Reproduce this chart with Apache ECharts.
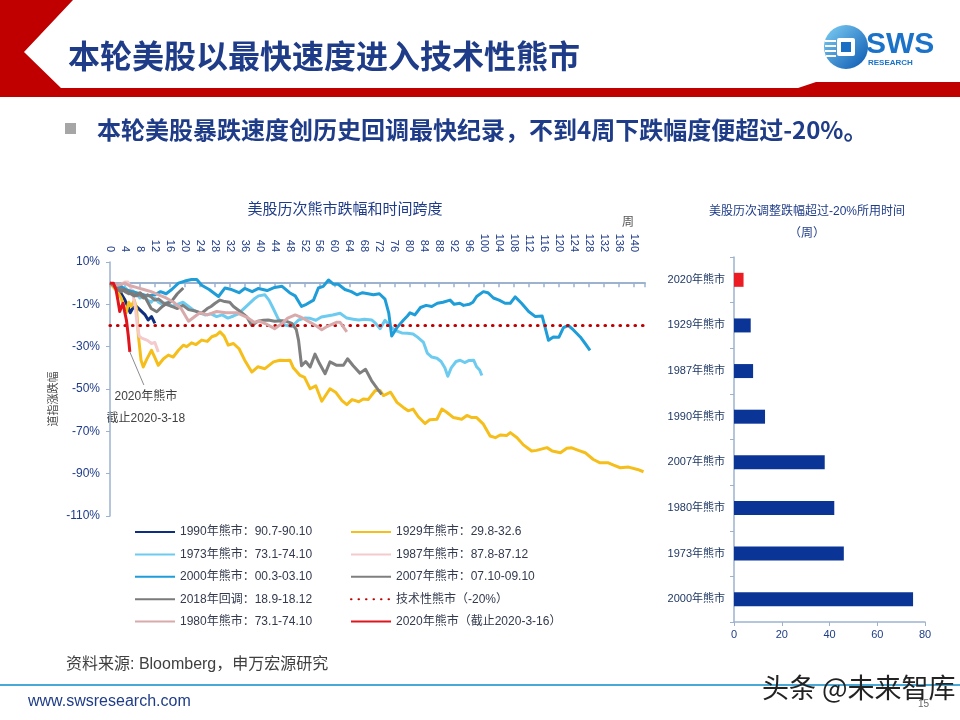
<!DOCTYPE html>
<html>
<head>
<meta charset="utf-8">
<title>本轮美股以最快速度进入技术性熊市</title>
<script src="https://cdn.jsdelivr.net/npm/echarts@6/dist/echarts.min.js"></script>
<style>
html,body{margin:0;padding:0;background:#fff;}
#chart{width:960px;height:720px;}
</style>
</head>
<body>
<div id="chart"></div>
<script>
// 历次熊市：[周数, 道指涨跌幅%]
var s1990 = [[0,0],[1,-1],[2,-3],[3,-5],[4,-8],[5,-12],[5.4,-14],[6.2,-11.5],[7.1,-11],[8,-12.6],[9.4,-15],[10.2,-17.4],[11.1,-15.8],[12,-19]];
var s1929 = [[0,0],[1,-2],[2,-4],[3,-7],[3.5,-10],[4.3,-14],[5,-9],[5.7,-11],[6.5,-8],[7.1,-12],[7.6,-25],[8.3,-36.4],[8.9,-39.6],[9.8,-36],[11.1,-31.7],[12,-35.2],[12.9,-38.8],[14.3,-35.7],[15.6,-34],[16.9,-34.9],[18.3,-31.7],[19.6,-29.3],[20.5,-30],[21.8,-28.2],[23,-29],[24.5,-26.9],[26,-27.5],[27.2,-25.3],[28.5,-24.5],[29.4,-23],[30.5,-25],[31.6,-29.3],[33,-28.5],[34.5,-31],[36,-36.4],[37.9,-42],[39.5,-39.5],[41.4,-40.4],[43.7,-37.2],[45.4,-36.4],[47,-36.5],[48.1,-36.4],[49,-40],[50.8,-43.6],[52,-44.5],[53.5,-49.9],[55,-48.5],[56.6,-55.8],[58.8,-49.9],[60.3,-51.5],[62,-55.5],[63.3,-57.4],[64.7,-55],[66.5,-56],[67.7,-54.7],[69,-55],[70.9,-50.7],[72.2,-50.7],[73.1,-53.1],[75,-51.5],[76.7,-56.3],[78.4,-58.7],[79.7,-60.3],[81,-59.5],[82.4,-63.1],[84.2,-66.3],[85.5,-64.5],[87.4,-64.3],[88.7,-59.5],[90,-61],[91.8,-63.5],[94,-64.3],[95.4,-62.5],[96.7,-63.5],[98,-63.5],[99.8,-66.6],[101.6,-72.2],[103,-73],[104.3,-71.7],[106,-72],[107,-70.6],[108.8,-73],[110.5,-76.4],[112.7,-79.3],[114,-79],[116.8,-77.7],[118.2,-79.3],[120.4,-80.1],[122.1,-78],[123.4,-77.8],[125.2,-79],[127,-80.1],[129.2,-83.3],[131,-84.9],[133.2,-84.9],[134.6,-86],[136.4,-87.2],[138.6,-86.9],[141,-88],[142.6,-89.1]];
var s1973 = [[0,0],[1,-1],[2,-2],[3,-3],[4,-2],[5,-4],[6,-3.5],[7,-5],[8,-7],[9,-6],[10,-8],[11,-9],[12,-7],[13,-9],[14,-10],[15.5,-9],[16.5,-11],[18,-10],[19.5,-9],[21,-11],[22.5,-13],[24,-14],[25.4,-15],[27,-14.5],[28.5,-15.8],[30,-15],[31.5,-16.5],[33,-15.5],[34.3,-14.5],[35.5,-12.5],[37,-10],[38.5,-7.5],[39.7,-6],[41.4,-5.5],[42.5,-8],[43.5,-11.5],[45,-17],[46.8,-19.8],[48.6,-20.5],[50.4,-17.4],[52,-16.5],[53.5,-16.6],[55,-17.5],[56.5,-16],[58,-15.5],[59.5,-15],[61.5,-14.2],[63.3,-16.5],[65,-17],[66.5,-17.4],[68,-17],[70,-17.4],[71,-19],[72.2,-21.5],[73.5,-17.5],[74.9,-20.6],[76.5,-22.5],[78,-23.5],[79.5,-23.7],[81,-24],[82.2,-25.5],[83.8,-28],[84.8,-33],[86,-34.9],[87.4,-35.5],[88.5,-37],[89.5,-40],[90.3,-44],[91.2,-40],[92.5,-37],[93.6,-36.4],[94.8,-37.5],[96,-36.5],[97.2,-36.4],[98,-39.5],[98.8,-41],[99.4,-43.6]];
var s1987 = [[0,0],[1,-1],[2,-1.5],[3,-0.5],[4,0.5],[4.8,0.5],[5.5,-2],[6.2,-6],[6.8,-12],[7.3,-20],[7.8,-25],[8.5,-26],[10,-27],[11.1,-28.5],[12,-28],[12.9,-32.5]];
var s2000 = [[0,0],[1,-1],[2,-2],[3,-1.5],[4,-3],[6,-4],[8,-5],[10,-6],[12,-5.5],[13.5,-4],[15,-5],[16.5,-3],[18.3,0],[20,1],[21.8,1.7],[23.2,1.7],[24.5,-1],[26.5,-3],[29,-6.3],[30.7,-2.3],[32.5,-3],[34.5,-4.5],[36,-2.5],[38,-4],[39.7,-2.5],[42,-3.5],[44,-2],[46,-1.5],[48,-4.5],[49.5,-6],[51.2,-11],[52.5,-10],[54.4,-8],[55.7,-2.3],[57,-1.5],[58.4,1.5],[59.7,-0.5],[61,-0.5],[62.8,-3],[64.5,-4],[66,-5.5],[67.5,-4.5],[69,-5],[70.4,-5.5],[72,-5],[73.5,-7.5],[74.5,-14],[75.3,-25],[76.7,-21],[78.4,-17.5],[79.5,-15.5],[80.2,-14],[81.5,-15],[83,-11.5],[84.5,-10.5],[86,-11],[87.5,-9.5],[89,-9],[90.9,-8],[92,-10],[93.5,-9.5],[94.5,-10.5],[96,-10],[97,-9],[98,-6.3],[99.8,-4],[101,-4.5],[102.5,-7],[104,-8],[105.6,-9.5],[107,-9.5],[108.3,-6.5],[110,-9.5],[111.9,-13.4],[113.7,-15.8],[115.5,-15.5],[117.2,-27],[118.5,-25.4],[120,-25.5],[121.2,-21],[122.5,-20],[123.8,-22],[125.7,-25.4],[127,-28.5],[128.3,-31.7]];
var s2007 = [[0,0],[1,-1],[2,-3],[3,-2.5],[4,-4],[5,-5],[6,-4.5],[7,-6],[8,-5.5],[9,-7],[10,-5.5],[11,-6.5],[12,-8],[13,-7.5],[14,-9],[15,-10],[16.5,-11],[18,-12],[19.5,-10.5],[21,-12.5],[22.5,-13],[24.5,-14.2],[26,-12],[27,-11],[28.1,-9.5],[29.4,-8],[30.7,-8.7],[32,-9],[33,-11],[34.8,-13.4],[36.5,-15.8],[37.9,-20],[39.5,-18],[41,-17.5],[42.3,-17.4],[44,-18],[46,-17.8],[47.2,-18],[48.6,-19],[49.8,-22],[50.4,-27],[51.2,-39],[52.3,-37],[53.5,-39.6],[54.8,-33.5],[56,-38],[57.5,-42.8],[58.8,-37.2],[60.6,-38.8],[62.4,-38.8],[63.5,-35.7],[65,-39],[66.8,-42.5],[68.3,-40.7],[69.9,-46],[71.3,-49.5],[72.6,-52.5]];
var s2018 = [[0,0],[1,-1],[2,-3],[3,-4],[4,-3],[5.3,-4.7],[6.5,-6],[8,-4.5],[9.5,-7],[11,-12],[12.5,-13.5],[14,-11],[15.2,-9.5],[16.5,-8.5],[18,-5],[19.6,-2.3]];
var s1980 = [[0,0],[2,-1],[4,0],[5,-1],[7,-2],[9,-3],[11,-4],[13,-5.5],[15,-7],[17,-9],[19,-12],[21,-18],[22.5,-16],[24,-14],[26,-15],[28.5,-13.4],[31,-14],[34,-14],[36.5,-16],[38.5,-18.5],[40,-18],[42,-19.5],[44,-21.5],[46,-19],[47.5,-16.5],[49.5,-15],[51,-16],[53.5,-18.5],[55,-20],[56.6,-22],[58,-20.5],[60.5,-18.5],[61.5,-18.5],[63.3,-23]];
var s2020 = [[0,0],[0.9,0],[1.6,-3],[2.1,-8],[2.6,-13.4],[3.1,-11],[3.5,-9.5],[3.9,-13.4],[4.4,-17.5],[4.9,-25],[5.3,-32.5]];
var techLine = [[0,-20],[143,-20]];

// 跌幅超过-20%所用时间（周）
var barCats = ['2020年熊市','1929年熊市','1987年熊市','1990年熊市','2007年熊市','1980年熊市','1973年熊市','2000年熊市'];
var barWeeks = [4,7,8,13,38,42,46,75];

var FONT = '"Liberation Sans", "Noto Sans CJK SC", sans-serif';
var NAVY = '#1f3c88';
var AXIS = '#9db2cf';

var chart = echarts.init(document.getElementById('chart'));

function lineSeries(name, data, color) {
  return {
    name: name, type: 'line', xAxisIndex: 0, yAxisIndex: 0,
    data: data, symbol: 'none', clip: false,
    lineStyle: {color: color, width: 3, join: 'round'},
    itemStyle: {color: color}
  };
}

var series = [
  lineSeries('1990年熊市：90.7-90.10', s1990, '#0e2f80'),
  lineSeries('1929年熊市：29.8-32.6', s1929, '#f5be1a'),
  lineSeries('1973年熊市：73.1-74.10', s1973, '#6dcbf0'),
  lineSeries('1987年熊市：87.8-87.12', s1987, '#f4cacd'),
  lineSeries('2000年熊市：00.3-03.10', s2000, '#1e9dd8'),
  lineSeries('2007年熊市：07.10-09.10', s2007, '#7f7f7f'),
  lineSeries('2018年回调：18.9-18.12', s2018, '#7a7a7a'),
  {
    name: '技术性熊市（-20%）', type: 'line', xAxisIndex: 0, yAxisIndex: 0,
    data: techLine, symbol: 'none',
    lineStyle: {color: '#c00000', width: 3.2, type: [0.5, 7], cap: 'round'},
    itemStyle: {color: '#c00000'}
  },
  lineSeries('1980年熊市：73.1-74.10', s1980, '#d9aaab'),
  lineSeries('2020年熊市（截止2020-3-16）', s2020, '#e0141c'),
  {
    type: 'bar', xAxisIndex: 2, yAxisIndex: 1, barWidth: 14,
    data: barWeeks.map(function (v, i) {
      return {value: v, itemStyle: {color: i === 0 ? '#ec1c24' : '#0a3596'}};
    })
  }
];

var legendText = {color: '#333a4d', fontSize: 12, fontFamily: FONT};
var legendBase = {orient: 'vertical', top: 521, itemWidth: 40, itemHeight: 14, itemGap: 10.4,
  selectedMode: false, textStyle: legendText, itemStyle: {opacity: 0}};

var option = {
  backgroundColor: '#fff',
  animation: false,
  textStyle: {fontFamily: FONT},
  title: [
    {text: '美股历次熊市跌幅和时间跨度', left: 340, top: 197, textAlign: 'center',
     textStyle: {color: NAVY, fontSize: 15, fontWeight: 'normal'}},
    {text: '美股历次调整跌幅超过-20%所用时间\n（周）', left: 802, top: 196, textAlign: 'center',
     textStyle: {color: NAVY, fontSize: 12, fontWeight: 'normal', lineHeight: 22}}
  ],
  legend: [
    Object.assign({left: 129,
     data: ['1990年熊市：90.7-90.10','1973年熊市：73.1-74.10','2000年熊市：00.3-03.10','2018年回调：18.9-18.12','1980年熊市：73.1-74.10']}, legendBase),
    Object.assign({left: 345,
     data: ['1929年熊市：29.8-32.6','1987年熊市：87.8-87.12','2007年熊市：07.10-09.10','技术性熊市（-20%）','2020年熊市（截止2020-3-16）']}, legendBase)
  ],
  grid: [
    {left: 110, top: 262, width: 535, height: 254},
    {left: 734, top: 257, width: 191, height: 365}
  ],
  xAxis: [
    {type: 'value', gridIndex: 0, min: 0, max: 143, interval: 4, position: 'bottom',
     axisLine: {onZero: true, lineStyle: {color: AXIS, width: 2}},
     axisTick: {show: true, inside: false, length: 4, lineStyle: {color: AXIS, width: 1.5}},
     axisLabel: {show: false}, splitLine: {show: false}},
    {type: 'value', gridIndex: 0, min: 0, max: 143, interval: 4, position: 'top',
     axisLine: {show: false, onZero: false}, axisTick: {show: false}, splitLine: {show: false},
     axisLabel: {rotate: 90, margin: 10, color: NAVY, fontSize: 11,
       formatter: function (v) { return v % 4 === 0 ? String(v) : ''; }},
     name: '周', nameLocation: 'end', nameGap: -17,
     nameTextStyle: {color: '#555', fontSize: 12, align: 'center', verticalAlign: 'bottom', padding: [0, 0, 33, 0]}},
    {type: 'value', gridIndex: 1, min: 0, max: 80, interval: 20, position: 'bottom',
     axisLine: {show: true, lineStyle: {color: AXIS, width: 1.5}},
     axisTick: {show: true, length: 4, lineStyle: {color: AXIS}},
     axisLabel: {color: NAVY, fontSize: 11, margin: 7}, splitLine: {show: false}}
  ],
  yAxis: [
    {type: 'value', gridIndex: 0, min: -110, max: 10, interval: 20,
     axisLine: {show: true, onZero: false, lineStyle: {color: AXIS, width: 1.5}},
     axisTick: {show: true, length: 4, lineStyle: {color: AXIS}},
     axisLabel: {color: NAVY, fontSize: 12, margin: 10, formatter: '{value}%'},
     splitLine: {show: false},
     name: '道指涨跌幅', nameLocation: 'middle', nameRotate: 90, nameGap: 51, nameMoveOverlap: false,
     nameTextStyle: {color: '#444', fontSize: 11, padding: [0, 20, 0, 0]}},
    {type: 'category', gridIndex: 1, inverse: true, data: barCats,
     axisLine: {show: true, onZero: false, lineStyle: {color: AXIS, width: 1.5}},
     axisTick: {show: true, length: 4, lineStyle: {color: AXIS}},
     axisLabel: {color: '#1f3864', fontSize: 11, margin: 9}}
  ],
  series: series
};

chart.setOption(option);

// 2020年熊市标注，锚定在红线终点
var endPt = chart.convertToPixel({xAxisIndex: 0, yAxisIndex: 0}, s2020[s2020.length - 1]);
var ax = endPt[0], ay = endPt[1];

var graphic = [
  {type: 'polygon', silent: true,
   shape: {points: [[0,0],[73,0],[24,52],[61,88],[798,88],[816,82],[960,82],[960,97],[0,97]]},
   style: {fill: '#c00000'}},
  {type: 'text', x: 68, y: 56,
   style: {text: '本轮美股以最快速度进入技术性熊市', font: 'bold 32px "Noto Sans CJK SC"', fill: NAVY, verticalAlign: 'middle'}},
  // logo
  {type: 'circle', shape: {cx: 846, cy: 47, r: 22},
   style: {fill: new echarts.graphic.LinearGradient(0, 0, 1, 1, [{offset: 0, color: '#7fd0f5'}, {offset: 1, color: '#0a56b0'}])}},
  {type: 'rect', shape: {x: 837, y: 38, width: 18, height: 18, r: 2}, style: {fill: '#fff'}},
  {type: 'rect', shape: {x: 841, y: 42, width: 10, height: 10}, style: {fill: '#1a6fc4'}},
  {type: 'rect', shape: {x: 825, y: 40, width: 11, height: 2}, style: {fill: '#fff'}},
  {type: 'rect', shape: {x: 825, y: 45, width: 11, height: 2}, style: {fill: '#fff'}},
  {type: 'rect', shape: {x: 825, y: 50, width: 11, height: 2}, style: {fill: '#fff'}},
  {type: 'rect', shape: {x: 826, y: 55, width: 10, height: 2}, style: {fill: '#fff'}},
  {type: 'text', x: 866, y: 45,
   style: {text: 'SWS', font: 'bold 30px "Liberation Sans"', fill: '#1a73c8', verticalAlign: 'middle'}},
  {type: 'text', x: 868, y: 63,
   style: {text: 'RESEARCH', font: 'bold 8px "Liberation Sans"', fill: '#1a73c8', verticalAlign: 'middle'}},
  // 副标题
  {type: 'rect', shape: {x: 65, y: 123, width: 11, height: 11}, style: {fill: '#a6a6a6'}},
  {type: 'text', x: 97, y: 130,
   style: {text: '本轮美股暴跌速度创历史回调最快纪录，不到4周下跌幅度便超过-20%。', font: 'bold 24px "Noto Sans CJK SC"', fill: NAVY, verticalAlign: 'middle'}},
  // 标注
  {type: 'line', shape: {x1: ax, y1: ay, x2: ax + 14, y2: ay + 33}, style: {stroke: '#8c8c8c', lineWidth: 1}},
  {type: 'text', x: ax + 16, y: ay + 45,
   style: {text: '2020年熊市', font: '12px ' + FONT, fill: '#404040', align: 'center', verticalAlign: 'middle'}},
  {type: 'text', x: ax + 16, y: ay + 67,
   style: {text: '截止2020-3-18', font: '12px ' + FONT, fill: '#404040', align: 'center', verticalAlign: 'middle'}},
  // 页脚
  {type: 'text', x: 66, y: 665,
   style: {text: '资料来源: Bloomberg，申万宏源研究', font: '16px ' + FONT, fill: '#404040', verticalAlign: 'middle'}},
  {type: 'line', shape: {x1: 0, y1: 685, x2: 960, y2: 685}, style: {stroke: '#49a8d6', lineWidth: 2}},
  {type: 'text', x: 28, y: 702,
   style: {text: 'www.swsresearch.com', font: '16px "Liberation Sans"', fill: NAVY, verticalAlign: 'middle'}},
  {type: 'text', x: 918, y: 704,
   style: {text: '15', font: '10px "Liberation Sans"', fill: '#666', verticalAlign: 'middle'}},
  {type: 'text', x: 762, y: 688,
   style: {text: '头条 @未来智库', font: '27px "Noto Sans CJK SC"', fill: '#222', verticalAlign: 'middle'}}
];

chart.setOption({graphic: graphic});
</script>
</body>
</html>
